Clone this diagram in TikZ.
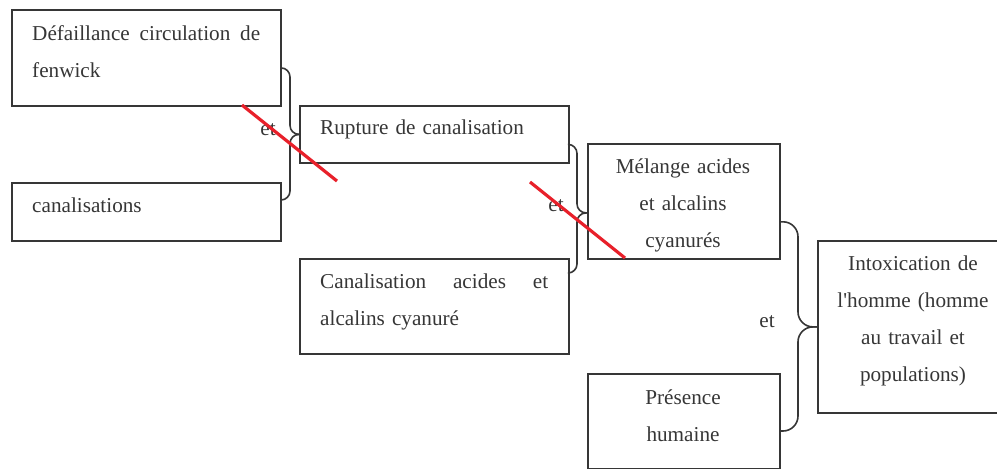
\documentclass[tikz,border=0pt]{standalone}
\usepackage{fontspec}
\setmainfont{Liberation Serif}
\definecolor{ink}{HTML}{363636}
\definecolor{cut}{HTML}{E8202A}
\begin{document}
\begin{tikzpicture}[x=1pt,y=-1pt,
  box/.style={draw=ink,line width=1.8pt,anchor=north west,inner sep=0pt},
  txt/.style={text=ink,inner sep=0pt,font=\fontsize{21.2}{37}\selectfont},
  lefttxt/.style={txt,anchor=base west,text width=240pt,align=left},
  midtxt/.style={txt,anchor=base,text width=180pt,align=center},
  brace/.style={draw=ink,line width=1.6pt,rounded corners=9pt},
  cross/.style={draw=cut,line width=3.2pt}]
  \useasboundingbox (0,0) rectangle (997,469);
  % the boxes
  \node[box,minimum width=269pt,minimum height=96pt] (fail) at (11,9) {};
  \node[box,minimum width=269pt,minimum height=58pt] (canal) at (11,182) {};
  \node[box,minimum width=269pt,minimum height=57pt] (rupture) at (299,105) {};
  \node[box,minimum width=269pt,minimum height=95pt] (acid) at (299,258) {};
  \node[box,minimum width=192pt,minimum height=115pt] (melange) at (587,143) {};
  \node[box,minimum width=192pt,minimum height=95pt] (presence) at (587,373) {};
  \node[box,minimum width=190pt,minimum height=172pt] (intox) at (817,240) {};
  % their texts
  \node[lefttxt] (failtxt) at (32,40) {\makebox[228pt][l]{Défaillance\hfill circulation\hfill de}\\fenwick};
  \node[lefttxt] (canaltxt) at (32,212) {canalisations};
  \node[lefttxt] (rupturetxt) at (320,134) {Rupture de canalisation};
  \node[lefttxt] (acidtxt) at (320,288) {\makebox[228pt][l]{Canalisation\hfill acides\hfill et}\\alcalins cyanuré};
  \node[midtxt] (melangetxt) at (683,173) {Mélange acides\\et alcalins\\cyanurés};
  \node[midtxt] (presencetxt) at (683,404) {Présence\\humaine};
  \node[midtxt] (intoxtxt) at (913,270) {Intoxication de\\l\textquotesingle homme (homme\\au travail et\\populations)};
  % braces joining two causes
  \coordinate (tip1) at (rupture.west);
  \coordinate (tip2) at ([yshift=-11.5pt]melange.west);
  \coordinate (tip3) at (intox.west);
  \draw[brace] ([yshift=-10pt]fail.east) -| ([xshift=-9pt]tip1) -- (tip1);
  \draw[brace] ([yshift=-18pt]canal.north east) -| ([xshift=-9pt]tip1) -- (tip1);
  \draw[brace] ([yshift=-10pt]rupture.east) -| ([xshift=-10pt]tip2) -- (tip2);
  \draw[brace] ([yshift=-15pt]acid.north east) -| ([xshift=-10pt]tip2) -- (tip2);
  \draw[brace,rounded corners=15pt] ([yshift=38pt]melange.south east) -| ([xshift=-19pt]tip3) -- (tip3);
  \draw[brace,rounded corners=15pt] ([yshift=-58pt]presence.north east) -| ([xshift=-19pt]tip3) -- (tip3);
  \node[txt,anchor=base] (et1) at (268,135) {et};
  \node[txt,anchor=base] (et2) at (556,211) {et};
  \node[txt,anchor=base] (et3) at (767,327) {et};
  % red strokes
  \coordinate (c1a) at (242,105);
  \coordinate (c1b) at (337,181);
  \coordinate (c2a) at (530,182);
  \coordinate (c2b) at (625,258);
  \draw[cross] (c1a) -- (c1b);
  \draw[cross] (c2a) -- (c2b);
\end{tikzpicture}
\end{document}
